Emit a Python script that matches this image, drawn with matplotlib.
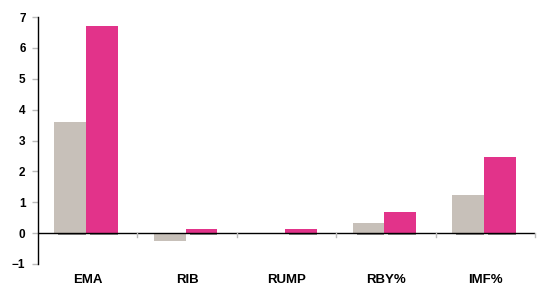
import numpy as np
import matplotlib
matplotlib.use("Agg")
import matplotlib.pyplot as plt
from matplotlib.transforms import blended_transform_factory

plt.rcParams['font.family'] = ['Liberation Sans', 'DejaVu Sans']

categories = ["EMA", "RIB", "RUMP", "RBY%", "IMF%"]
series_a = [3.6, -0.27, 0.0, 0.33, 1.23]
series_b = [6.72, 0.14, 0.14, 0.68, 2.47]

gray = "#C7C0B9"
pink = "#E2338A"

fig = plt.figure(figsize=(5.46, 2.86), dpi=100)
ax = fig.add_axes([38/546, 22/286, 497/546, 247/286])

x = np.arange(len(categories))
w = 0.32
off = -0.015
ax.bar(x - w/2 + off, series_a, width=w, color=gray, zorder=2)
ax.bar(x + w/2 + off, series_b, width=w, color=pink, zorder=2)

# little dark shadow under the positive bars
for xs, vals in [(x - w/2 + off, series_a), (x + w/2 + off, series_b)]:
    for xc, v in zip(xs, vals):
        if v > 0:
            ax.plot([xc - w/2 + 0.04, xc + w/2], [-0.035, -0.035],
                    color='#808080', lw=1.3, zorder=2.5, solid_capstyle='butt')

ax.set_xlim(-0.5, len(categories) - 0.5)
ax.set_ylim(-1, 7)
ax.set_yticks(range(-1, 8))
ax.tick_params(axis='y', direction='out', length=4, width=1, color='#BBBBBB',
               labelsize=8.5, pad=5)
for lab in ax.get_yticklabels():
    lab.set_fontweight('bold')

for s in ['top', 'right', 'bottom']:
    ax.spines[s].set_visible(False)
ax.spines['left'].set_linewidth(1)

# zero line with category separators
ax.axhline(0, color='black', lw=1, zorder=3)
for xs in np.arange(0.5, len(categories), 1.0):
    ax.plot([xs, xs], [0, -0.13], color='#BBBBBB', lw=1, clip_on=False, zorder=3)

ax.set_xticks([])
trans = blended_transform_factory(ax.transData, fig.transFigure)
for xi, c in zip(x, categories):
    ax.text(xi, 6/286, c, transform=trans, ha='center', va='center',
            fontsize=9.5, fontweight='bold')

fig.savefig("out.png", dpi=100)
